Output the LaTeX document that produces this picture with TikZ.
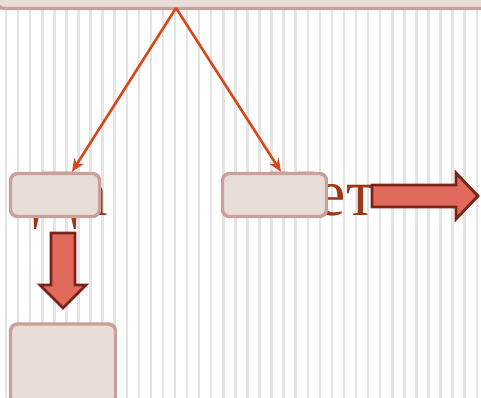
\documentclass[tikz,border=0pt]{standalone}
\usepackage{fontspec}
\setmainfont{Liberation Serif}
\usetikzlibrary{arrows.meta}

\definecolor{boxfill}{HTML}{E8DDD9}
\definecolor{boxline}{HTML}{C9A198}
\definecolor{linkcol}{HTML}{D9481A}
\definecolor{arrowfill}{HTML}{E06A5B}
\definecolor{arrowline}{HTML}{7B2217}
\definecolor{wordcol}{HTML}{9E3719}
\definecolor{stripecol}{HTML}{E4E4E4}

\tikzset{
	box/.style={draw=boxline, fill=boxfill, line width=3.4pt, rounded corners=7pt, inner sep=0pt},
	link/.style={draw=linkcol, line width=2.6pt, -{Stealth[length=13pt, width=11pt]}},
	blockarrow/.style={draw=arrowline, fill=arrowfill, line width=2.8pt, line join=miter},
	word/.style={text=wordcol, font=\fontsize{66}{66}\selectfont, inner sep=0pt, anchor=base west}
}

\begin{document}
\begin{tikzpicture}[x=1pt, y=-1pt]
			%%%%% START %%%%%
			\useasboundingbox (0, 0) rectangle (481, 398);
			\fill[white] (0, 0) rectangle (481, 398);
			
			\foreach \i in {0,...,39}
				\fill[stripecol] ({4.8+12.07*\i}, 0) rectangle ++(2.5, 398);
			
			% words behind the boxes
			\node[word] (yesword) at (33, 215) {Да};
			\node[word] (noword) at (269, 215) {Нет};
			
			% boxes
			\node[box, minimum width=500pt, minimum height=32pt] (top) at (247, -7.5) {};
			\node[box, minimum width=89pt, minimum height=43pt] (yes) at (55, 195) {};
			\node[box, minimum width=104pt, minimum height=43pt] (no) at (274.5, 195) {};
			\node[box, minimum width=105pt, minimum height=80pt] (next) at (63, 364) {};
			
			\coordinate (fork) at (176, 8);
			\draw[link] (fork) -- ([xshift=17pt]yes.north);
			\draw[link] (fork) -- ([xshift=6.5pt]no.north);
			
			% block arrows
			\draw[blockarrow] (51, 233) -- (75, 233) -- (75, 285) -- (86, 285) -- (63, 308) -- (40, 285) -- (51, 285) -- cycle;
			\draw[blockarrow] (372, 185) -- (456, 185) -- (456, 173) -- (478, 196) -- (456, 219) -- (456, 207) -- (372, 207) -- cycle;
			
			%%%%% END %%%%%
\end{tikzpicture}
\end{document}
